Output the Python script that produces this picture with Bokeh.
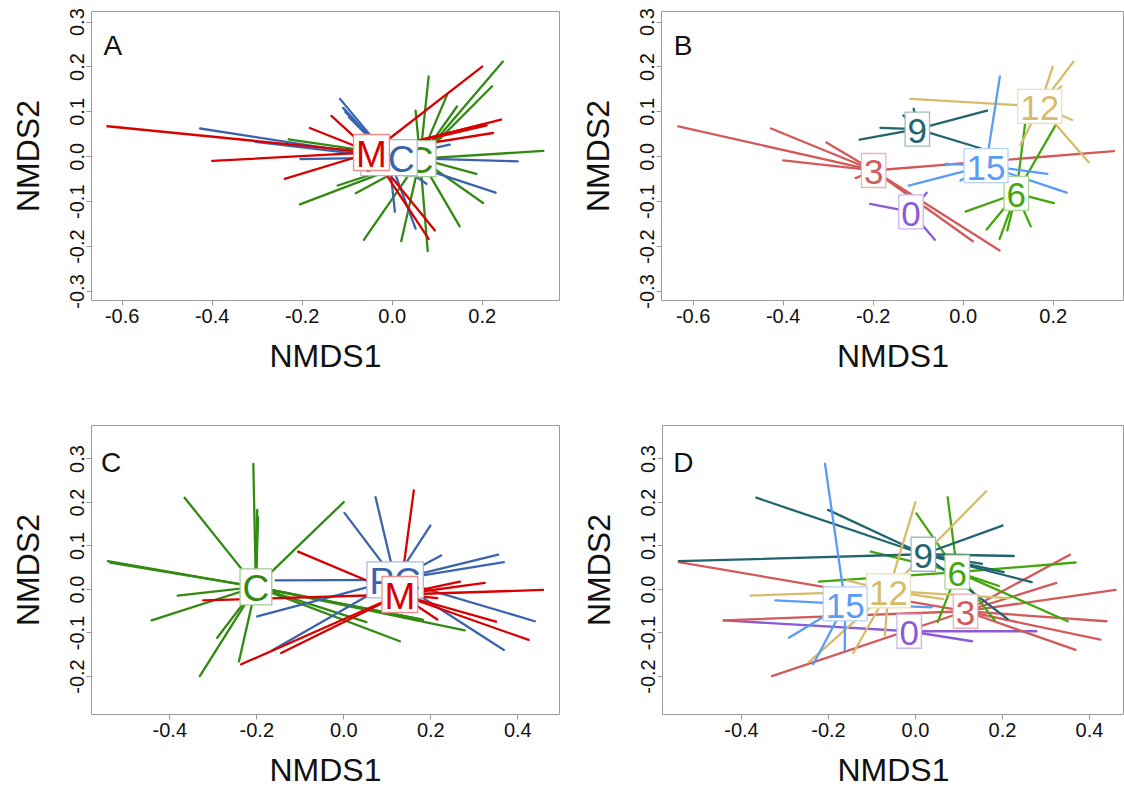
from bokeh.plotting import figure
from bokeh.models import Range1d, FixedTicker, PrintfTickFormatter, Label, ColumnDataSource
from bokeh.layouts import column, row
from bokeh.embed import file_html
from bokeh.resources import INLINE
from bokeh.core.properties import value

FONT = "Liberation Sans"

# ---------------- Panel A (treatment) ----------------
A_C_center = [0.062, -0.004]
A_C_x = [-0.230, -0.205, -0.121, -0.081, -0.063, 0.020, 0.079, 0.150, 0.202, 0.187, 0.336, 0.246, 0.222, 0.144, 0.122, 0.081, 0.052]
A_C_y = [0.039, -0.106, -0.064, -0.081, -0.185, -0.188, -0.210, -0.155, -0.103, -0.038, 0.013, 0.212, 0.157, 0.112, 0.138, 0.179, 0.103]
A_PC_center = [-0.007, -0.002]
A_PC_x = [-0.427, -0.304, -0.204, -0.116, -0.109, -0.104, -0.096, 0.006, 0.052, 0.128, 0.279, 0.230, 0.076]
A_PC_y = [0.063, 0.033, -0.005, 0.129, 0.109, 0.100, 0.088, -0.122, -0.160, 0.027, -0.010, -0.080, -0.060]
A_M_center = [-0.046, 0.0096]
A_M_x = [-0.633, -0.400, -0.239, -0.183, -0.135, 0.200, 0.242, 0.204, 0.210, 0.224, 0.095, 0.081]
A_M_y = [0.068, -0.009, -0.049, 0.064, 0.091, 0.201, 0.083, 0.073, 0.070, 0.053, -0.164, -0.183]

# ---------------- Panel B (time) ----------------
B_0_center = [-0.116, -0.1225]
B_0_x = [-0.207, -0.081, -0.063]
B_0_y = [-0.105, -0.080, -0.185]
B_3_center = [-0.199, -0.0305]
B_3_x = [-0.633, -0.427, -0.400, -0.304, -0.239, 0.335, 0.0215, 0.081]
B_3_y = [0.068, 0.063, -0.008, 0.032, -0.0475, 0.0126, -0.188, -0.2086]
B_6_center = [0.118, -0.0817]
B_6_x = [0.005, 0.052, 0.081, 0.098, 0.150, 0.2015, 0.138, 0.205]
B_6_y = [-0.122, -0.162, -0.183, -0.164, -0.155, -0.103, 0.077, 0.070]
B_9_center = [-0.102, 0.0615]
B_9_x = [-0.230, -0.184, 0.053, 0.0385, -0.110, -0.133]
B_9_y = [0.038, 0.0646, 0.103, 0.019, 0.107, 0.092]
B_12_center = [0.170, 0.1125]
B_12_x = [-0.117, 0.199, 0.245, 0.218, 0.242, 0.279, 0.127]
B_12_y = [0.129, 0.201, 0.212, 0.157, 0.082, -0.012, 0.025]
B_15_center = [0.0507, -0.0198]
B_15_x = [0.0815, -0.039, -0.121, 0.187, 0.230, -0.006]
B_15_y = [0.179, -0.016, -0.064, -0.038, -0.080, -0.053]

# ---------------- Panel C (treatment) ----------------
C_C_center = [-0.202, 0.006]
C_C_x = [-0.208, -0.199, -0.197, -0.366, 0.000, -0.5425, -0.537, -0.382, -0.442, -0.291, -0.331, -0.241, 0.052, 0.129, 0.182, 0.176, 0.278]
C_C_y = [0.289, 0.183, 0.166, 0.211, 0.201, 0.065, 0.062, -0.014, -0.071, -0.111, -0.199, -0.165, -0.075, -0.119, -0.070, -0.068, -0.094]
C_PC_center = [0.118, 0.022]
C_PC_x = [0.073, 0.0015, 0.199, 0.224, 0.355, 0.368, 0.439, 0.368, -0.157, -0.199, -0.165]
C_PC_y = [0.212, 0.176, 0.147, 0.078, 0.080, 0.063, -0.073, -0.139, 0.021, -0.062, -0.140]
C_M_center = [0.129, -0.0115]
C_M_x = [0.161, -0.105, -0.323, -0.236, -0.144, 0.267, 0.324, 0.458, 0.350, 0.425, 0.215, 0.215]
C_M_y = [0.228, 0.087, -0.025, -0.172, -0.146, 0.018, 0.015, -0.001, -0.074, -0.116, -0.069, -0.020]

# ---------------- Panel D (time) ----------------
D_0_center = [-0.0145, -0.096]
D_0_x = [-0.441, 0.278, 0.130]
D_0_y = [-0.071, -0.096, -0.119]
D_3_center = [0.115, -0.050]
D_3_x = [-0.544, -0.441, -0.330, 0.355, 0.324, 0.460, 0.439, 0.425, 0.368]
D_3_y = [0.063, -0.071, -0.199, 0.080, 0.015, -0.001, -0.073, -0.115, -0.139]
D_6_center = [0.096, 0.040]
D_6_x = [0.074, 0.002, -0.103, -0.222, 0.368, 0.350, 0.192, 0.182, 0.051]
D_6_y = [0.212, 0.175, 0.087, 0.018, 0.062, -0.073, 0.008, -0.071, -0.075]
D_9_center = [0.018, 0.081]
D_9_x = [-0.366, -0.201, -0.544, 0.200, 0.226, 0.267, 0.212, 0.203, 0.153]
D_9_y = [0.211, 0.183, 0.065, 0.147, 0.077, 0.017, -0.068, 0.040, 0.059]
D_12_center = [-0.062, -0.003]
D_12_x = [0.1625, 0.000, -0.379, -0.245, -0.143, -0.0705, 0.064, 0.215, -0.157]
D_12_y = [0.226, 0.201, -0.014, -0.167, -0.146, -0.106, -0.022, -0.020, 0.021]
D_15_center = [-0.1617, -0.033]
D_15_x = [-0.208, -0.1625, -0.235, -0.291, -0.322, 0.038]
D_15_y = [0.289, -0.140, -0.172, -0.111, -0.025, -0.041]

# tick positions
ticks_AB_x = [-0.6, -0.4, -0.2, 0.0, 0.2]
ticks_AB_y = [-0.3, -0.2, -0.1, 0.0, 0.1, 0.2, 0.3]
ticks_CD_x = [-0.4, -0.2, 0.0, 0.2, 0.4]
ticks_CD_y = [-0.2, -0.1, 0.0, 0.1, 0.2, 0.3]

# colours
COL_M, COL_PC, COL_C = "#d90000", "#3c64ad", "#338a13"
COL_0, COL_3, COL_6 = "#8b5bd6", "#d4595b", "#43a60c"
COL_9, COL_12, COL_15 = "#22656f", "#d6bc6a", "#5a9cf5"

CHAR_W = {"M": 0.833, "C": 0.722, "P": 0.667}


def tint(hexcol, f=0.55):
    r, g, b = (int(hexcol[i:i + 2], 16) for i in (1, 3, 5))
    r, g, b = (int(c + (255 - c) * f) for c in (r, g, b))
    return "#%02x%02x%02x" % (r, g, b)


def make_fig(xr, yr, xt, yt, width, height, bl, br, bt, bb, letter, lxy):
    p = figure(width=width, height=height, x_range=Range1d(*xr), y_range=Range1d(*yr),
               output_backend="svg", toolbar_location=None,
               min_border_left=bl, min_border_right=br, min_border_top=bt, min_border_bottom=bb)
    p.xgrid.visible = False
    p.ygrid.visible = False
    p.outline_line_color = "#9a9a9a"
    p.outline_line_width = 1
    p.outline_line_alpha = 1
    xa = p.xaxis[0]
    ya = p.yaxis[0]
    xa.ticker = FixedTicker(ticks=xt)
    ya.ticker = FixedTicker(ticks=yt)
    for ax in (xa, ya):
        ax.formatter = PrintfTickFormatter(format="%.1f")
        ax.axis_line_color = None
        ax.major_tick_line_color = "#9a9a9a"
        ax.major_tick_out = 5
        ax.major_tick_in = 0
        ax.minor_tick_line_color = None
        ax.major_label_text_font = FONT
        ax.major_label_text_font_size = "20px"
        ax.major_label_text_color = "#111111"
        ax.axis_label_text_font = FONT
        ax.axis_label_text_font_size = "32px"
        ax.axis_label_text_font_style = "normal"
        ax.axis_label_text_color = "#111111"
    xa.axis_label = "NMDS1"
    ya.axis_label = "NMDS2"
    ya.major_label_orientation = "vertical"
    xa.major_label_standoff = 3
    ya.major_label_standoff = 2
    xa.axis_label_standoff = 12
    ya.axis_label_standoff = 22
    p.add_layout(Label(x=lxy[0], y=lxy[1], text=letter, text_font=FONT, text_font_size="28px",
                       text_baseline="alphabetic", text_color="#111111"))
    return p


def add_groups(p, groups):
    # spiders first
    for lab, col, cen, xs, ys in groups:
        src = ColumnDataSource(dict(x0=[cen[0]] * len(xs), y0=[cen[1]] * len(ys), x1=xs, y1=ys))
        p.segment(x0="x0", y0="y0", x1="x1", y1="y1", source=src, line_color=col,
                  line_width=2.3, line_cap="round")
    # labels in boxes on top
    for lab, col, cen, xs, ys in groups:
        digit = lab.isdigit()
        fs = 35 if digit else 37
        tw = sum(CHAR_W.get(ch, 0.556) for ch in lab) * fs
        bw = tw + 5
        bh = 34 if digit else 36
        p.rect(x=[cen[0]], y=[cen[1]], width=[bw], height=[bh], width_units="screen",
               height_units="screen", fill_color="white", line_color=tint(col), line_width=1.3)
        p.text(x=[cen[0]], y=[cen[1]], text=[lab], text_font=value(FONT),
               text_font_size=value("%dpx" % fs), text_color=col, text_align="center",
               text_baseline="middle", y_offset=2)


pA = make_fig((-0.6682, 0.3718), (-0.3201, 0.3236), ticks_AB_x, ticks_AB_y,
              562, 410, 91, 3, 11, 110, "A", (-0.6416, 0.248))
add_groups(pA, [("C", COL_C, A_C_center, A_C_x, A_C_y),
                ("PC", COL_PC, A_PC_center, A_PC_x, A_PC_y),
                ("M", COL_M, A_M_center, A_M_x, A_M_y)])

pB = make_fig((-0.6704, 0.3584), (-0.3201, 0.3236), ticks_AB_x, ticks_AB_y,
              562, 410, 99, 0, 11, 110, "B", (-0.643, 0.248))
add_groups(pB, [("0", COL_0, B_0_center, B_0_x, B_0_y),
                ("3", COL_3, B_3_center, B_3_x, B_3_y),
                ("6", COL_6, B_6_center, B_6_x, B_6_y),
                ("9", COL_9, B_9_center, B_9_x, B_9_y),
                ("12", COL_12, B_12_center, B_12_x, B_12_y),
                ("15", COL_15, B_15_center, B_15_x, B_15_y)])

pC = make_fig((-0.580, 0.4959), (-0.2874, 0.377), ticks_CD_x, ticks_CD_y,
              562, 384, 91, 3, 15, 80, "C", (-0.558, 0.2926))
add_groups(pC, [("C", COL_C, C_C_center, C_C_x, C_C_y),
                ("PC", COL_PC, C_PC_center, C_PC_x, C_PC_y),
                ("M", COL_M, C_M_center, C_M_x, C_M_y)])

pD = make_fig((-0.5816, 0.4805), (-0.2874, 0.377), ticks_CD_x, ticks_CD_y,
              562, 384, 100, 0, 15, 80, "D", (-0.557, 0.292))
add_groups(pD, [("0", COL_0, D_0_center, D_0_x, D_0_y),
                ("3", COL_3, D_3_center, D_3_x, D_3_y),
                ("6", COL_6, D_6_center, D_6_x, D_6_y),
                ("9", COL_9, D_9_center, D_9_x, D_9_y),
                ("12", COL_12, D_12_center, D_12_x, D_12_y),
                ("15", COL_15, D_15_center, D_15_x, D_15_y)])

layout = column(row(pA, pB), row(pC, pD))
open("out.html", "w").write(file_html(layout, INLINE))
